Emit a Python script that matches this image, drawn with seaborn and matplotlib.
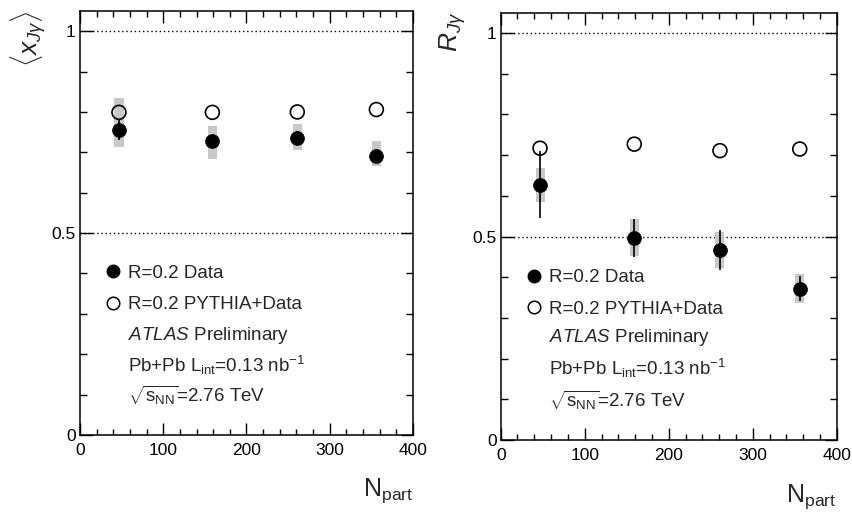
import matplotlib
matplotlib.use("Agg")
import matplotlib.pyplot as plt
import seaborn as sns
import pandas as pd
from matplotlib.ticker import MultipleLocator, FixedLocator, FuncFormatter
from matplotlib.lines import Line2D

# ---------------- data ----------------
npart = [46.8, 159, 261, 356]

xjg_data = [0.755, 0.727, 0.735, 0.691]
xjg_stat = [0.025, 0.015, 0.018, 0.012]
xjg_sys_lo = [0.712, 0.684, 0.705, 0.665]
xjg_sys_hi = [0.835, 0.766, 0.769, 0.729]
xjg_pythia = [0.799, 0.799, 0.800, 0.806]

rjg_data = [0.627, 0.497, 0.467, 0.372]
rjg_stat = [0.082, 0.047, 0.050, 0.031]
rjg_sys = [0.041, 0.045, 0.045, 0.035]
rjg_pythia = [0.717, 0.727, 0.711, 0.715]

legend_labels = ["R=0.2 Data", "R=0.2 PYTHIA+Data"]
info_lines = [r"$\mathit{ATLAS}$ Preliminary",
              r"Pb+Pb L$_{\mathrm{int}}$=0.13 nb$^{\mathrm{-1}}$",
              r"$\sqrt{\mathrm{s}_{\mathrm{NN}}}$=2.76 TeV"]

# ---------------- style ----------------
sns.set_style("ticks")
plt.rcParams["font.family"] = ["Liberation Sans", "DejaVu Sans"]
plt.rcParams["mathtext.fontset"] = "custom"
plt.rcParams["mathtext.rm"] = "Liberation Sans"
plt.rcParams["mathtext.it"] = "Liberation Sans:italic"
plt.rcParams["mathtext.bf"] = "Liberation Sans:bold"

W, H = 852, 514
fig = plt.figure(figsize=(W / 100, H / 100), dpi=100)


def px_rect(l, t, r, b):
    return [l / W, 1 - b / H, (r - l) / W, (b - t) / H]


def fx(x):
    return x / W


def fy(y):
    return 1 - y / H


ax1 = fig.add_axes(px_rect(80, 11, 413, 435))
ax2 = fig.add_axes(px_rect(500.7, 12.7, 836.7, 440))

grey = "#c8c8c8"
LEG_FS = 13.5


def style_axis(ax):
    ax.set_xlim(0, 400)
    ax.set_ylim(0, 1.05)
    ax.axhline(1.0, ls=(0, (1, 2)), color="black", lw=1.0, zorder=1)
    ax.axhline(0.5, ls=(0, (1, 2)), color="black", lw=1.0, zorder=1)
    ax.xaxis.set_major_locator(MultipleLocator(100))
    ax.xaxis.set_minor_locator(MultipleLocator(20))
    ax.yaxis.set_major_locator(FixedLocator([0, 0.5, 1.0]))
    ax.yaxis.set_minor_locator(MultipleLocator(0.1))
    ax.yaxis.set_major_formatter(FuncFormatter(lambda v, p: "%g" % v))
    ax.tick_params(axis="both", which="both", direction="in", top=True, right=True,
                   width=1.0, labelsize=12.5, colors="black")
    ax.tick_params(axis="x", which="major", length=8.5, pad=6)
    ax.tick_params(axis="x", which="minor", length=4.3)
    ax.tick_params(axis="y", which="major", length=9, pad=3)
    ax.tick_params(axis="y", which="minor", length=5)
    for s in ax.spines.values():
        s.set_visible(True)
        s.set_linewidth(1.1)
        s.set_color("black")
    ax.set_xlabel("")
    ax.set_ylabel("")


# ---------------- left panel ----------------
ax = ax1
ax.bar(npart, [h - l for h, l in zip(xjg_sys_hi, xjg_sys_lo)], bottom=xjg_sys_lo,
       width=11, color=grey, linewidth=0, zorder=2)
ax.errorbar(npart, xjg_data, yerr=xjg_stat, fmt="none", ecolor="black",
            elinewidth=1.2, capsize=0, zorder=3)
df1 = pd.DataFrame({"npart": npart, "data": xjg_data, "pythia": xjg_pythia})
sns.scatterplot(data=df1, x="npart", y="data", ax=ax, s=100, color="black",
                edgecolor="black", linewidth=0.5, zorder=4)
sns.scatterplot(data=df1, x="npart", y="pythia", ax=ax, s=100, facecolor="none",
                edgecolor="black", linewidth=1.2, zorder=4)
style_axis(ax)

# ---------------- right panel ----------------
ax = ax2
ax.bar(npart, [2 * s for s in rjg_sys], bottom=[d - s for d, s in zip(rjg_data, rjg_sys)],
       width=10.7, color=grey, linewidth=0, zorder=2)
ax.errorbar(npart, rjg_data, yerr=rjg_stat, fmt="none", ecolor="black",
            elinewidth=1.2, capsize=0, zorder=3)
df2 = pd.DataFrame({"npart": npart, "data": rjg_data, "pythia": rjg_pythia})
sns.scatterplot(data=df2, x="npart", y="data", ax=ax, s=100, color="black",
                edgecolor="black", linewidth=0.5, zorder=4)
sns.scatterplot(data=df2, x="npart", y="pythia", ax=ax, s=100, facecolor="none",
                edgecolor="black", linewidth=1.2, zorder=4)
style_axis(ax)

# ---------------- legends & annotations ----------------
handles = [Line2D([], [], ls="none", marker="o", markersize=9, color="black"),
           Line2D([], [], ls="none", marker="o", markersize=9, markerfacecolor="none",
                  markeredgecolor="black", markeredgewidth=1.1)]


def add_legend(ax, mx, rows, text_x, info_rows):
    hl = 16 / (LEG_FS * 100 / 72)
    tp = (text_x - (mx - 8) - 16) / (LEG_FS * 100 / 72)
    ax.legend(handles, legend_labels, loc="center left",
              bbox_to_anchor=(fx(mx - 8), fy((rows[0] + rows[1]) / 2)),
              bbox_transform=fig.transFigure, frameon=False, fontsize=LEG_FS,
              handlelength=hl, handletextpad=tp, labelspacing=0.78,
              borderpad=0, borderaxespad=0, handleheight=0.7)
    for txt, yy in zip(info_lines, info_rows):
        fig.text(fx(text_x), fy(yy), txt, fontsize=LEG_FS, ha="left", va="center")


add_legend(ax1, 113, (273, 305), 128, (335, 365, 395))
add_legend(ax2, 534, (278, 309), 549, (338, 368, 400))

# axis titles
fig.text(fx(28), fy(10), r"$\langle x_{J\gamma}\rangle$", fontsize=19, rotation=90,
         ha="center", va="top")
fig.text(fx(453), fy(12), r"$R_{J\gamma}$", fontsize=19, rotation=90,
         ha="center", va="top")
fig.text(fx(413), fy(496), r"N$_{\mathrm{part}}$", fontsize=18, ha="right", va="baseline")
fig.text(fx(836), fy(502), r"N$_{\mathrm{part}}$", fontsize=18, ha="right", va="baseline")

fig.savefig("out.png", dpi=100)
